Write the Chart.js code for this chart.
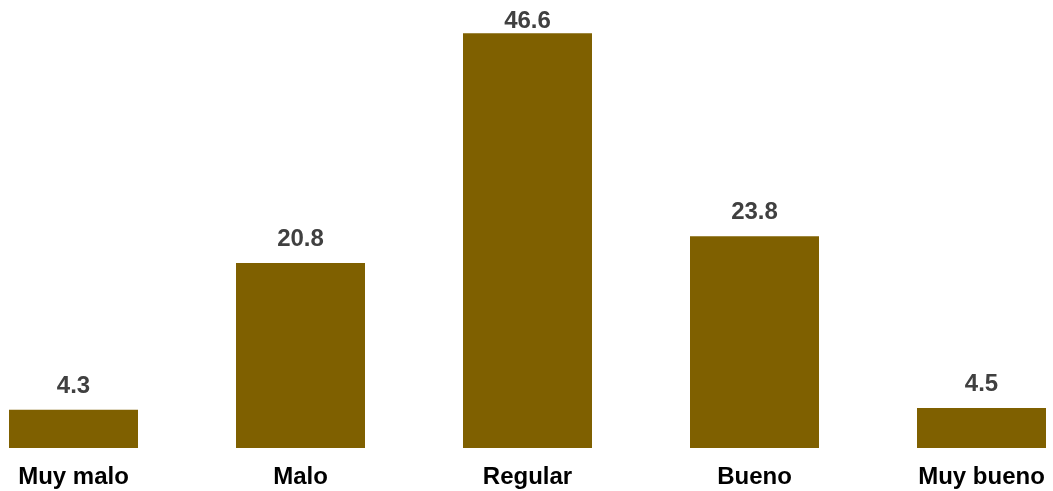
<!DOCTYPE html>
<html>
<head>
<meta charset="utf-8">
<script src="https://cdn.jsdelivr.net/npm/chart.js@4/dist/chart.umd.min.js"></script>
<style>
  html, body { margin: 0; padding: 0; background: #fff; }
  #wrap { width: 1053px; height: 491px; position: relative; }
</style>
</head>
<body>
<div id="wrap"><canvas id="chart"></canvas></div>
<script>
const categories = ['Muy malo', 'Malo', 'Regular', 'Bueno', 'Muy bueno'];
const values = [4.3, 20.8, 46.6, 23.8, 4.5];

const barColor = '#7f6000';
const labelFont = "'Liberation Sans', Arial, sans-serif";

// draws the number above each bar (kept inside the canvas at the top)
const valueLabels = {
  id: 'valueLabels',
  afterDatasetsDraw(chart) {
    const ctx = chart.ctx;
    const meta = chart.getDatasetMeta(0);
    ctx.save();
    ctx.font = `bold 24px ${labelFont}`;
    ctx.fillStyle = '#404040';
    ctx.textAlign = 'center';
    ctx.textBaseline = 'alphabetic';
    meta.data.forEach((bar, i) => {
      ctx.fillText(values[i].toFixed(1), bar.x, Math.max(bar.y - 17, 28));
    });
    ctx.restore();
  }
};

new Chart(document.getElementById('chart'), {
  type: 'bar',
  data: {
    labels: categories,
    datasets: [{
      data: values,
      backgroundColor: barColor,
      barPercentage: 1,
      categoryPercentage: 129 / 227,
      clip: false
    }]
  },
  options: {
    responsive: true,
    maintainAspectRatio: false,
    animation: false,
    layout: { padding: { left: 73.5, right: 71.5, top: 3, bottom: 0 } },
    plugins: {
      legend: { display: false },
      tooltip: { enabled: false }
    },
    scales: {
      x: {
        offset: false,
        grid: { display: false, drawTicks: false },
        border: { display: false },
        afterFit: (scale) => {
          scale.height = 43;
          scale.paddingLeft = 0;
          scale.paddingRight = 0;
        },
        ticks: {
          padding: 15,
          color: '#000',
          maxRotation: 0,
          autoSkip: false,
          font: { family: labelFont, size: 24, weight: 'bold' }
        }
      },
      y: {
        display: false,
        min: 0,
        max: 50
      }
    }
  },
  plugins: [valueLabels]
});
</script>
</body>
</html>
